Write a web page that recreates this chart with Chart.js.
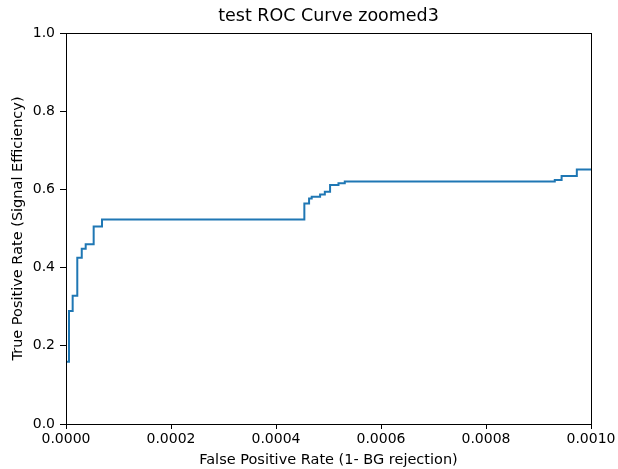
<!DOCTYPE html>
<html>
<head>
<meta charset="utf-8">
<script src="https://cdn.jsdelivr.net/npm/chart.js@4/dist/chart.umd.min.js"></script>
<style>
  html, body { margin: 0; padding: 0; background: #fff; }
  #wrap { width: 618px; height: 469px; }
</style>
</head>
<body>
<div id="wrap"><canvas id="roc"></canvas></div>
<script>
// ROC curve points (false positive rate, true positive rate)
var fpr = [0, 0.0000057, 0.0000127, 0.0000215, 0.00003, 0.0000375, 0.0000527, 0.0000686,
           0.000454, 0.000463, 0.000468, 0.000484, 0.000493, 0.000503, 0.000519, 0.000531,
           0.000931, 0.000944, 0.000973, 0.001];
var tpr = [0.159, 0.289, 0.328, 0.425, 0.448, 0.460, 0.505, 0.523,
           0.564, 0.577, 0.581, 0.587, 0.594, 0.611, 0.616, 0.620,
           0.624, 0.634, 0.651, 0.651];
var xTicks = [0, 0.0002, 0.0004, 0.0006, 0.0008, 0.001];
var yTicks = [0, 0.2, 0.4, 0.6, 0.8, 1.0];
var chartTitle = 'test ROC Curve zoomed3';

var points = fpr.map(function(x, i) { return { x: x, y: tpr[i] }; });

// box around the plot area like matplotlib spines, title centred over the axes
var frame = {
  id: 'frame',
  afterDraw: function(chart) {
    var a = chart.chartArea, ctx = chart.ctx;
    ctx.save();
    ctx.strokeStyle = '#000';
    ctx.lineWidth = 1;
    ctx.strokeRect(Math.round(a.left) + 0.5, Math.round(a.top) + 0.5,
                   Math.round(a.right - a.left), Math.round(a.bottom - a.top));
    ctx.fillStyle = '#000';
    ctx.font = '17.5px "DejaVu Sans"';
    ctx.textAlign = 'center';
    ctx.textBaseline = 'middle';
    ctx.fillText(chartTitle, (a.left + a.right) / 2, 16);
    ctx.restore();
  }
};

var tickFont = { family: 'DejaVu Sans', size: 14 };
var labelFont = { family: 'DejaVu Sans', size: 14.5 };

new Chart(document.getElementById('roc'), {
  type: 'line',
  data: {
    datasets: [{
      data: points,
      borderColor: '#1f77b4',
      borderWidth: 2,
      pointRadius: 0,
      stepped: true,
      fill: false
    }]
  },
  options: {
    responsive: true,
    maintainAspectRatio: false,
    animation: false,
    layout: { padding: { left: 0, right: 27, top: 33, bottom: 0 } },
    plugins: {
      legend: { display: false },
      tooltip: { enabled: false },
      title: { display: false }
    },
    scales: {
      x: {
        type: 'linear',
        min: 0,
        max: 0.001,
        afterBuildTicks: function(scale) {
          scale.ticks = xTicks.map(function(v) { return { value: v }; });
        },
        afterFit: function(scale) { scale.height = 45; },
        ticks: {
          color: '#000',
          font: tickFont,
          padding: 2,
          maxRotation: 0,
          callback: function(v) { return Number(v).toFixed(4); }
        },
        grid: { drawOnChartArea: false, drawTicks: true, tickLength: 5, color: '#000' },
        border: { display: true, color: '#000' },
        title: {
          display: true,
          text: 'False Positive Rate (1- BG rejection)',
          color: '#000',
          font: labelFont,
          padding: { top: 2, bottom: 0 }
        }
      },
      y: {
        type: 'linear',
        min: 0,
        max: 1,
        afterBuildTicks: function(scale) {
          scale.ticks = yTicks.map(function(v) { return { value: v }; });
        },
        afterFit: function(scale) { scale.width = 66; },
        ticks: {
          color: '#000',
          font: tickFont,
          padding: 5,
          callback: function(v) { return Number(v).toFixed(1); }
        },
        grid: { drawOnChartArea: false, drawTicks: true, tickLength: 6, color: '#000' },
        border: { display: true, color: '#000' },
        title: {
          display: true,
          text: 'True Positive Rate (Signal Efficiency)',
          color: '#000',
          font: labelFont,
          padding: { top: 10, bottom: 4 }
        }
      }
    }
  },
  plugins: [frame]
});
</script>
</body>
</html>
